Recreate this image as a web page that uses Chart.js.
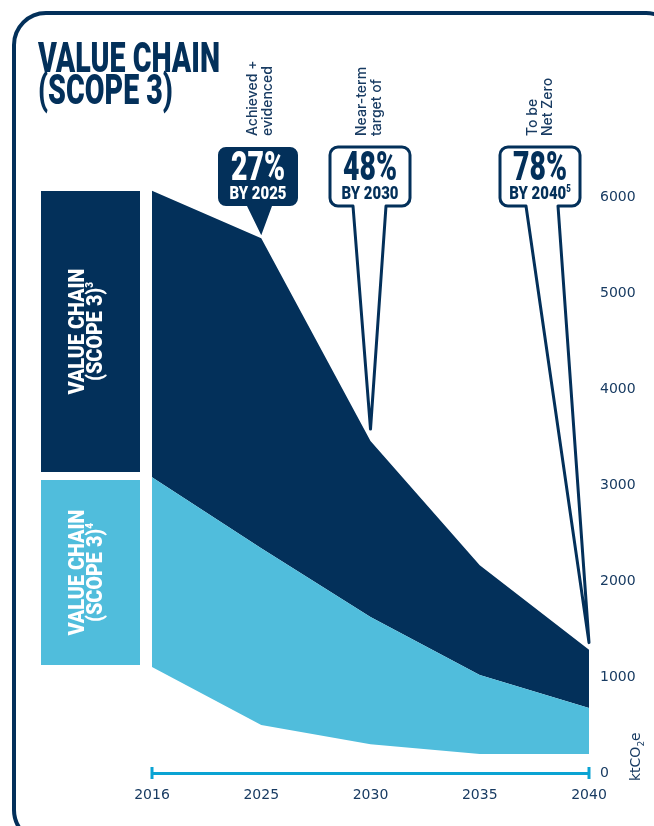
<!DOCTYPE html>
<html>
<head>
<meta charset="utf-8">
<title>Value chain (Scope 3)</title>
<script src="https://cdn.jsdelivr.net/npm/chart.js@4/dist/chart.umd.min.js"></script>
<style>
  html, body { margin: 0; padding: 0; background: #fff; }
  canvas { display: block; }
</style>
</head>
<body>
<canvas id="scope3" width="654" height="826"></canvas>
<script>
// --- emissions pathway, ktCO2e ---
const years = ['2016', '2025', '2030', '2035', '2040'];
const lowerEdge = [1105, 500, 300, 198, 198];      // floor of the light band
const lightTop = [3080, 2342, 1625, 1022, 678];    // light band / dark band boundary
const darkTop = [6065, 5570, 3458, 2165, 1285];    // top of the dark band
const yTicks = [0, 1000, 2000, 3000, 4000, 5000, 6000];

// callout texts, one per milestone year
const calloutNotes = [['Achieved +', 'evidenced'], ['Near-term', 'target of'], ['To be', 'Net Zero']];
const calloutPct = ['27%', '48%', '78%'];
const calloutBy = ['BY 2025', 'BY 2030', 'BY 2040'];
const calloutSup = ['', '', '5'];
const calloutYear = ['2025', '2030', '2040'];

const NAVY = '#03305a';
const LIGHT = '#50bddc';
const CYAN = '#0aa3d3';
const INK = '#183b62';

const heavy = s => `900 ${s}px Roboto`;

// draws a run of squeezed heavy text pieces (for superscripts etc.)
function runWidth(ctx, parts, sx) {
    return parts.reduce((w, p) => { ctx.font = heavy(p.size); return w + ctx.measureText(p.t).width * sx; }, 0);
}
function drawRun(ctx, parts, x, base, sx, color, align) {
    let u = align === 'center' ? x - runWidth(ctx, parts, sx) / 2 : x;
    ctx.fillStyle = color;
    ctx.textAlign = 'left';
    ctx.textBaseline = 'alphabetic';
    for (const p of parts) {
        ctx.font = heavy(p.size);
        ctx.save();
        ctx.translate(u, base + (p.dy || 0));
        ctx.scale(sx, 1);
        ctx.fillText(p.t, 0, 0);
        ctx.restore();
        u += ctx.measureText(p.t).width * sx;
    }
}
function fitScale(ctx, text, size, width) {
    ctx.font = heavy(size);
    return width / ctx.measureText(text).width;
}

function roundRect(ctx, l, t, r, b, rad) {
    ctx.beginPath();
    ctx.moveTo(l + rad, t);
    ctx.arcTo(r, t, r, b, rad);
    ctx.arcTo(r, b, l, b, rad);
    ctx.arcTo(l, b, l, t, rad);
    ctx.arcTo(l, t, r, t, rad);
    ctx.closePath();
}

// speech bubble with a pointed tail running down to (tx, ty)
function bubble(ctx, l, t, r, b, rad, tailL, tailR, tx, ty) {
    ctx.beginPath();
    ctx.moveTo(tailL, b);
    ctx.lineTo(tx, ty);
    ctx.lineTo(tailR, b);
    ctx.arcTo(r, b, r, t, rad);
    ctx.arcTo(r, t, l, t, rad);
    ctx.arcTo(l, t, l, b, rad);
    ctx.arcTo(l, b, r, b, rad);
    ctx.closePath();
}

function legendBlock(ctx, top, bottom, color, sup) {
    ctx.fillStyle = color;
    ctx.fillRect(41, top, 99, bottom - top);
    const cy = (top + bottom) / 2;
    ctx.save();
    ctx.translate(0, cy);
    ctx.rotate(-Math.PI / 2);
    const sx = fitScale(ctx, 'VALUE CHAIN', 22, 126);
    drawRun(ctx, [{ t: 'VALUE CHAIN', size: 22 }], 0, 84, sx, '#fff', 'center');
    drawRun(ctx, [{ t: '(SCOPE 3)', size: 22 }, { t: sup, size: 11, dy: -9 }], 0, 102, sx, '#fff', 'center');
    ctx.restore();
}

const decor = {
    id: 'decor',
    afterDraw(chart) {
        const ctx = chart.ctx;
        const xs = chart.scales.x, ys = chart.scales.y;
        const area = chart.chartArea;
        ctx.save();

        // card outline
        ctx.strokeStyle = NAVY;
        ctx.lineWidth = 4;
        roundRect(ctx, 14, 13, 678, 842, 32);
        ctx.stroke();

        // heading
        const tsx = fitScale(ctx, 'VALUE CHAIN', 43, 182);
        drawRun(ctx, [{ t: 'VALUE CHAIN', size: 43 }], 38, 72, tsx, NAVY, 'left');
        drawRun(ctx, [{ t: '(SCOPE 3)', size: 43 }], 38, 104, tsx, NAVY, 'left');

        // side legend blocks
        legendBlock(ctx, 191, 472, NAVY, '3');
        legendBlock(ctx, 480, 665, LIGHT, '4');

        // x axis end caps
        ctx.strokeStyle = CYAN;
        ctx.lineWidth = 3;
        [area.left, area.right].forEach(px => {
            ctx.beginPath();
            ctx.moveTo(px, area.bottom - 6);
            ctx.lineTo(px, area.bottom + 6);
            ctx.stroke();
        });

        // unit label
        ctx.save();
        ctx.translate(640, 781);
        ctx.rotate(-Math.PI / 2);
        ctx.fillStyle = INK;
        ctx.textAlign = 'left';
        ctx.textBaseline = 'alphabetic';
        ctx.font = '14px "DejaVu Sans"';
        let u = 0;
        ctx.fillText('ktCO', u, 0); u += ctx.measureText('ktCO').width;
        ctx.font = '9px "DejaVu Sans"';
        ctx.fillText('2', u, 4); u += ctx.measureText('2').width;
        ctx.font = '14px "DejaVu Sans"';
        ctx.fillText('e', u, 0);
        ctx.restore();

        // milestone callouts
        const boxes = [
            { l: 218, r: 298, tailL: 247, tailR: 272, gap: 3, filled: true, noteX: 257 },
            { l: 330, r: 410, tailL: 353, tailR: 386, gap: 12, filled: false, noteX: 366 },
            { l: 500, r: 580, tailL: 526, tailR: 558, gap: 7, filled: false, noteX: 537 }
        ];
        const T = 147, B = 206;
        boxes.forEach((bx, i) => {
            const idx = years.indexOf(calloutYear[i]);
            const tx = xs.getPixelForValue(idx);
            const ty = ys.getPixelForValue(darkTop[idx]) - bx.gap;
            bubble(ctx, bx.l, T, bx.r, B, 8, bx.tailL, bx.tailR, tx, ty);
            ctx.lineJoin = 'round';
            if (bx.filled) {
                ctx.fillStyle = NAVY;
                ctx.fill();
            } else {
                ctx.strokeStyle = NAVY;
                ctx.lineWidth = 3;
                ctx.stroke();
            }
            const fg = bx.filled ? '#fff' : NAVY;
            const cx = (bx.l + bx.r) / 2;
            const psx = fitScale(ctx, calloutPct[i], 40, 54);
            drawRun(ctx, [{ t: calloutPct[i], size: 40 }], cx, T + 33, psx, fg, 'center');
            const bsx = fitScale(ctx, calloutBy[i], 19, 57);
            const byParts = [{ t: calloutBy[i], size: 19 }];
            if (calloutSup[i]) byParts.push({ t: calloutSup[i], size: 10, dy: -7 });
            drawRun(ctx, byParts, cx, T + 52, bsx, fg, 'center');

            // rotated note above the bubble
            ctx.save();
            ctx.translate(0, 136);
            ctx.rotate(-Math.PI / 2);
            ctx.fillStyle = INK;
            ctx.font = '500 14px Inter';
            ctx.textAlign = 'left';
            ctx.textBaseline = 'alphabetic';
            calloutNotes[i].forEach((line, k) => ctx.fillText(line, 0, bx.noteX + k * 15));
            ctx.restore();
        });

        ctx.restore();
    }
};

new Chart(document.getElementById('scope3'), {
    type: 'line',
    data: {
        labels: years,
        datasets: [
            { label: 'floor', data: lowerEdge, borderWidth: 0, pointRadius: 0, fill: false },
            { label: 'Value chain (Scope 3)4', data: lightTop, borderWidth: 0, pointRadius: 0, fill: '-1', backgroundColor: LIGHT, borderColor: LIGHT },
            { label: 'Value chain (Scope 3)3', data: darkTop, borderWidth: 0, pointRadius: 0, fill: '-1', backgroundColor: NAVY, borderColor: NAVY }
        ]
    },
    options: {
        responsive: false,
        devicePixelRatio: 1,
        animation: false,
        events: [],
        layout: { padding: { left: 152, top: 149, right: 0, bottom: 0 } },
        plugins: { legend: { display: false }, tooltip: { enabled: false } },
        elements: { line: { tension: 0 } },
        scales: {
            x: {
                type: 'category',
                offset: false,
                grid: { display: false, drawTicks: false },
                border: { display: true, color: CYAN, width: 3 },
                ticks: {
                    color: INK, font: { family: 'DejaVu Sans', size: 14 },
                    padding: 14, maxRotation: 0, autoSkip: false
                },
                afterFit: s => { s.height = 53; }
            },
            y: {
                position: 'right',
                min: 0,
                max: 6500,
                grid: { display: false, drawTicks: false },
                border: { display: false },
                afterBuildTicks: s => { s.ticks = yTicks.map(v => ({ value: v })); },
                ticks: {
                    color: INK, font: { family: 'DejaVu Sans', size: 14 }, padding: 11,
                    callback: v => String(v)
                },
                afterFit: s => { s.width = 65; }
            }
        }
    },
    plugins: [decor]
});
</script>
</body>
</html>
